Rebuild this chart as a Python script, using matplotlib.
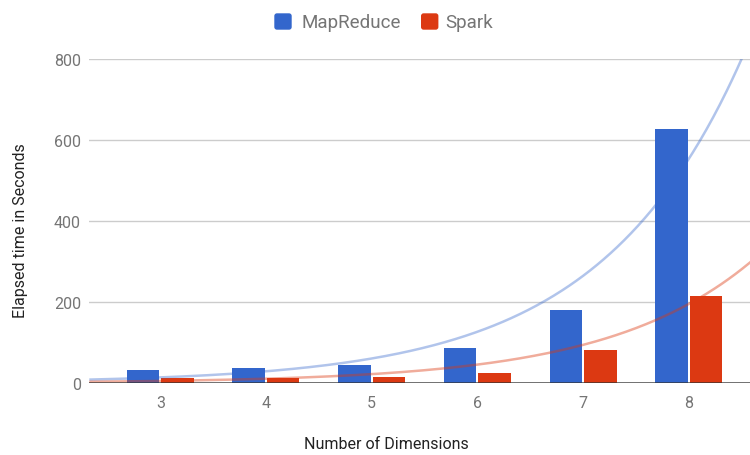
import numpy as np
import matplotlib
matplotlib.use("Agg")
import matplotlib.pyplot as plt
from matplotlib.patches import FancyBboxPatch

plt.rcParams['font.family'] = ['Roboto', 'DejaVu Sans']

dimensions = [3, 4, 5, 6, 7, 8]
mapreduce = [33, 36, 45, 86, 181, 627]
spark = [12, 12, 15.5, 25, 82, 214]
series_names = ["MapReduce", "Spark"]
y_ticks = [0, 200, 400, 600, 800]

BLUE = "#3366CC"
RED = "#DC3912"
TEXT = "#757575"


def fit_exponential(x, y):
    """Exponential trend y = a*exp(b*x) from a y-weighted fit of log(y)."""
    x = np.asarray(x, float)
    y = np.asarray(y, float)
    b, la = np.polyfit(x, np.log(y), 1, w=np.sqrt(y))
    return np.exp(la), b


W, H = 750, 456
fig = plt.figure(figsize=(W / 100, H / 100), dpi=100)
left, right, top, bottom = 89.3, 750, 60, 384
ax = fig.add_axes([left / W, (H - bottom) / H, (right - left) / W, (bottom - top) / H])

x = np.array(dimensions, float)
bw = 0.308
off = 0.163
ax.bar(x - off, mapreduce, bw, color=BLUE, zorder=3)
ax.bar(x + off, spark, bw, color=RED, zorder=3)

xmin, xmax = 2.328, 8.58
xs = np.linspace(xmin, xmax + 0.2, 400)
for vals, col, alpha in [(mapreduce, BLUE, 0.38), (spark, RED, 0.42)]:
    a, b = fit_exponential(dimensions, vals)
    ax.plot(xs, a * np.exp(b * xs), color=col, alpha=alpha, lw=1.8, zorder=4,
            solid_capstyle='butt')

ax.set_xlim(xmin, xmax)
ax.set_ylim(0, 800)
ax.set_yticks(y_ticks)
ax.set_xticks(dimensions)
ax.set_xticklabels([str(d) for d in dimensions])
ax.tick_params(axis='both', length=0, labelsize=11.5, labelcolor=TEXT)
ax.tick_params(axis='x', pad=8.5)
ax.tick_params(axis='y', pad=6)
ax.grid(axis='y', color="#cccccc", lw=1, zorder=0)
ax.axhline(0, color="#333333", lw=1.2, zorder=5, alpha=0.8)
for s in ax.spines.values():
    s.set_visible(False)

fig.text(386 / W, 1 - 445 / H, "Number of Dimensions", ha='center', va='center',
         fontsize=11.5, color="#222222")
fig.text(21 / W, 1 - 231 / H, "Elapsed time in Seconds", ha='center', va='center',
         rotation=90, fontsize=11.5, color="#222222")

# legend
for sx, tx, col, name in [(275, 301.7, BLUE, series_names[0]),
                          (421.7, 445, RED, series_names[1])]:
    box = FancyBboxPatch((sx, H - 30), 16, 15, boxstyle="round,pad=0,rounding_size=2",
                         transform=None, color=col, figure=fig)
    fig.patches.append(box)
    fig.text(tx / W, 1 - 22.5 / H, name, ha='left', va='center', fontsize=13.5, color=TEXT)

fig.savefig("out.png", dpi=100)
